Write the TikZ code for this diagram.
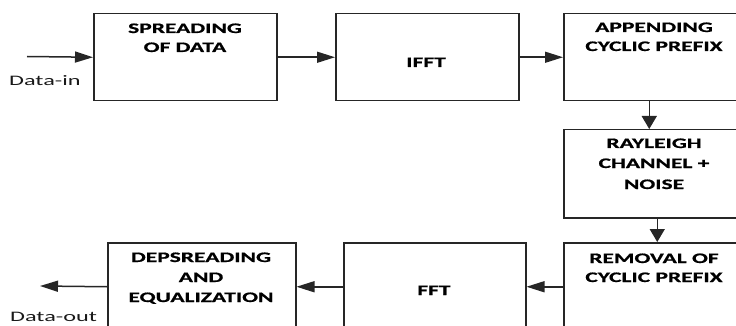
\documentclass[tikz,border=0pt]{standalone}
\usepackage{fontspec}
\setmainfont{Carlito}
\newfontfamily\lblfont[FakeStretch=1.67]{Carlito}
\newfontfamily\boxfont[FakeStretch=1.62, FakeBold=0.8, UprightFont=* Bold]{Carlito}
\usetikzlibrary{arrows.meta}
\begin{document}
\begin{tikzpicture}[x=1pt,y=-1pt,
  blk/.style={draw=black!85, line width=1.5pt, minimum width=183pt, minimum height=87pt, inner sep=0pt, anchor=north west},
  txt/.style={font=\boxfont\fontsize{14.5}{17}\selectfont, anchor=base, inner sep=0pt, text=black},
  lbl/.style={font=\lblfont\fontsize{14.5}{17}\selectfont, anchor=base west, inner sep=0pt, text=black!90},
  harr/.style={draw=black!85, -{Triangle[length=18pt,width=11pt]}, line width=1.5pt},
  varr/.style={draw=black!85, -{Triangle[length=13pt,width=15pt]}, line width=1.5pt}]
\useasboundingbox (0,0) rectangle (736,326);
\clip (0,0) rectangle (736,326);
% boxes
\node[blk] (b1) at (93,13) {};
\node[blk] (b2) at (335,13) {};
\node[blk] (b3) at (563,13) {};
\node[blk, minimum height=88pt] (b4) at (563,129) {};
\node[blk, minimum height=88pt] (b5) at (563,242) {};
\node[blk, minimum width=182pt, minimum height=88pt] (b6) at (343,242) {};
\node[blk, minimum width=188pt, minimum height=88pt] (b7) at (107,242) {};
% texts
\node[txt] (t1a) at (185,33) {SPREADING};
\node[txt] (t1b) at (185,52) {OF DATA};
\node[txt] (t2) at (426,67) {IFFT};
\node[txt] (t3a) at (654,32) {APPENDING};
\node[txt] (t3b) at (654,51) {CYCLIC PREFIX};
\node[txt] (t4a) at (654,148) {RAYLEIGH};
\node[txt] (t4b) at (654,168) {CHANNEL +};
\node[txt] (t4c) at (654,189) {NOISE};
\node[txt] (t5a) at (654,263) {REMOVAL OF};
\node[txt] (t5b) at (654,282) {CYCLIC PREFIX};
\node[txt] (t6) at (434,295) {FFT};
\node[txt] (t7a) at (201,262) {DEPSREADING};
\node[txt] (t7b) at (201,282) {AND};
\node[txt] (t7c) at (201,302) {EQUALIZATION};
\node[lbl] (lin) at (9,86) {Data-in};
\node[lbl] (lout) at (10,321) {Data-out};
% connectors
\coordinate (cin) at (27,56.5);
\coordinate (cout) at (40,286);
\draw[harr] (cin) -- (b1.west);
\draw[harr] (b1.east) -- (b2.west);
\draw[harr] (b2.east) -- (b3.west);
\draw[varr] ([xshift=-6pt]b3.south) -- ([xshift=-6pt]b4.north);
\draw[varr] ([xshift=2pt]b4.south) -- ([xshift=2pt]b5.north);
\draw[harr] (b5.west) -- (b6.east);
\draw[harr] (b6.west) -- (b7.east);
\draw[harr] (b7.west) -- (cout);
\end{tikzpicture}
\end{document}
